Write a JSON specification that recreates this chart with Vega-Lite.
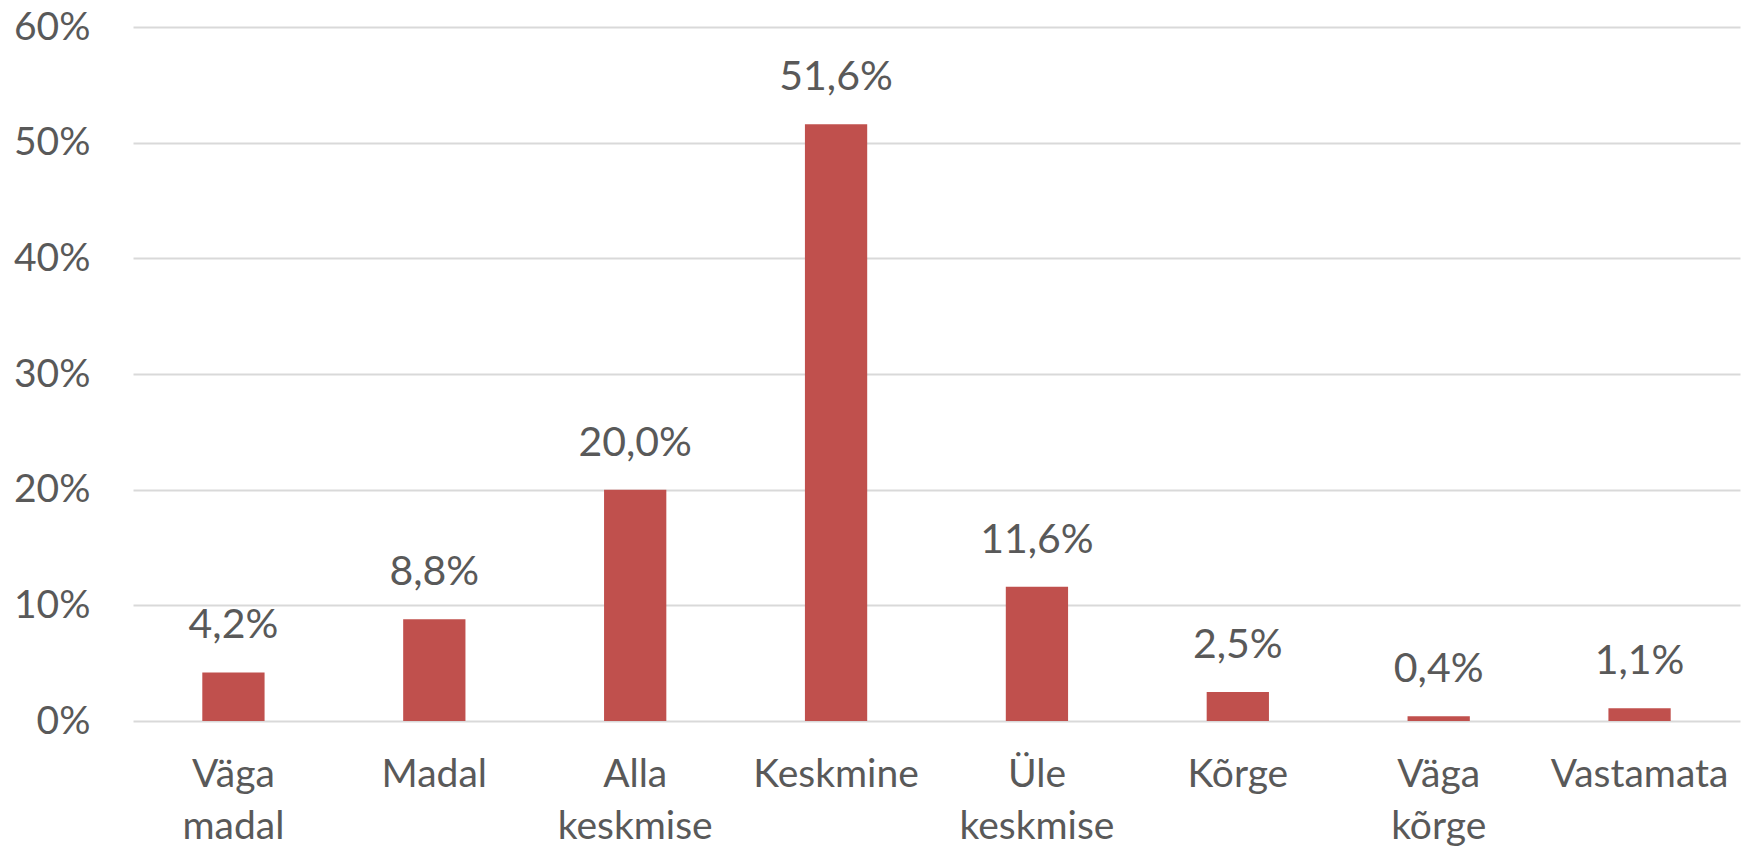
{
  "$schema": "https://vega.github.io/schema/vega-lite/v6.json",
  "width": 1607,
  "height": 694,
  "autosize": {"type": "none"},
  "padding": {"left": 133, "top": 27, "right": 14, "bottom": 127},
  "background": "white",
  "data": {
    "values": [
      {"kategooria": "Väga madal", "osakaal": 4.2},
      {"kategooria": "Madal", "osakaal": 8.8},
      {"kategooria": "Alla keskmise", "osakaal": 20.0},
      {"kategooria": "Keskmine", "osakaal": 51.6},
      {"kategooria": "Üle keskmise", "osakaal": 11.6},
      {"kategooria": "Kõrge", "osakaal": 2.5},
      {"kategooria": "Väga kõrge", "osakaal": 0.4},
      {"kategooria": "Vastamata", "osakaal": 1.1}
    ]
  },
  "transform": [
    {"calculate": "replace(format(datum.osakaal, '.1f'), '.', ',') + '%'", "as": "silt"}
  ],
  "encoding": {
    "x": {
      "field": "kategooria",
      "type": "nominal",
      "sort": null,
      "scale": {"paddingInner": 0.69, "paddingOuter": 0.345},
      "axis": {
        "title": null,
        "labelAngle": 0,
        "labelExpr": "split(datum.label, ' ')",
        "labelFont": "Lato",
        "labelFontSize": 39,
        "labelColor": "#595959",
        "labelLineHeight": 52,
        "labelPadding": 34,
        "labelBaseline": "top",
        "ticks": false,
        "domain": false,
        "grid": false
      }
    },
    "y": {
      "field": "osakaal",
      "type": "quantitative",
      "scale": {"domain": [0, 60], "nice": false},
      "axis": {
        "title": null,
        "values": [0, 10, 20, 30, 40, 50, 60],
        "labelExpr": "datum.value + '%'",
        "labelFont": "Lato",
        "labelFontSize": 39,
        "labelColor": "#595959",
        "labelPadding": 43,
        "ticks": false,
        "domain": false,
        "grid": true,
        "gridColor": "#D9D9D9",
        "gridWidth": 2
      }
    }
  },
  "layer": [
    {"mark": {"type": "bar", "color": "#C0504D"}},
    {
      "mark": {"type": "text", "baseline": "alphabetic", "dy": -34, "font": "Lato", "fontSize": 41, "color": "#595959"},
      "encoding": {"text": {"field": "silt"}}
    }
  ],
  "config": {"view": {"stroke": null}}
}
